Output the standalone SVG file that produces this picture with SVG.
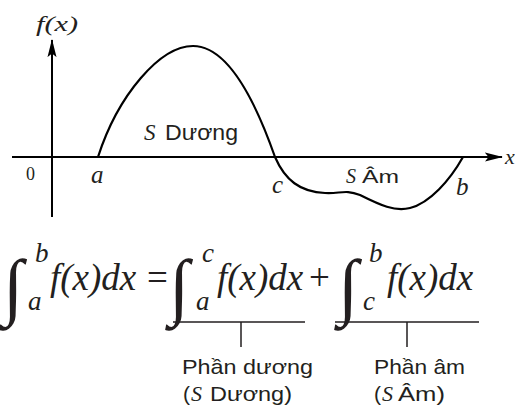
<svg xmlns="http://www.w3.org/2000/svg" width="515" height="408" viewBox="0 0 515 408">
<style>
.ax{stroke:#000;stroke-width:2;fill:none}
.cv{stroke:#000;stroke-width:2.2;fill:none}
.ti{font-family:"Liberation Serif","Times New Roman",serif;font-style:italic;fill:#231f20}
.tr{font-family:"Liberation Serif","Times New Roman",serif;fill:#231f20}
.ts{font-family:"Liberation Sans",Arial,sans-serif;fill:#231f20}
.ln{stroke:#231f20;stroke-width:1.5;fill:none}
</style>
<defs>
<marker id="ah2" viewBox="0 0 20 10" refX="19" refY="5" markerWidth="18" markerHeight="10" markerUnits="userSpaceOnUse" orient="auto"><path d="M0,0 L20,5 L0,10 L4,5 z" fill="#000"/></marker>
</defs>
<rect width="515" height="408" fill="#fff"/>
<g id="axes">
<line class="ax" x1="52" y1="217" x2="52" y2="40" marker-end="url(#ah2)"/>
<line class="ax" x1="12" y1="157" x2="502" y2="157" marker-end="url(#ah2)"/>
<text class="ti" x="36" y="31" font-size="22" textLength="42" lengthAdjust="spacingAndGlyphs">f(x)</text>
<text class="ti" x="505" y="164" font-size="22">x</text>
<text class="tr" x="26" y="180" font-size="18">0</text>
</g>
<g id="curve">
<path class="cv" d="M98,157 C118,95 160,46 193,46 C228,46 255,100 275,157 C285,180 300,192 325,193 C340,194 345,189 360,195 C380,205 395,212 410,208 C430,203 450,180 463,157"/>
</g>
<g id="labels">
<text class="ti" x="91" y="183" font-size="25">a</text>
<text class="ti" x="272" y="193" font-size="25">c</text>
<text class="ti" x="456" y="195" font-size="25">b</text>
<text x="144" y="140"><tspan class="ti" font-size="23">S</tspan><tspan class="ts" font-size="22" x="165" textLength="73" lengthAdjust="spacingAndGlyphs">Dương</tspan></text>
<text x="346" y="183"><tspan class="ti" font-size="20">S</tspan><tspan class="ts" font-size="19" x="362" textLength="37" lengthAdjust="spacingAndGlyphs">Âm</tspan></text>
</g>
<g id="equation">
<text class="tr" x="3" y="311" font-size="74" font-weight="bold">∫</text>
<text class="ti" x="35" y="262" font-size="27">b</text>
<text class="ti" x="28" y="310" font-size="27">a</text>
<text class="ti" x="50" y="290" font-size="37">f(x)dx</text>
<text class="tr" x="147" y="290" font-size="37">=</text>
<text class="tr" x="169" y="311" font-size="74" font-weight="bold">∫</text>
<text class="ti" x="202" y="262" font-size="27">c</text>
<text class="ti" x="196" y="310" font-size="27">a</text>
<text class="ti" x="217" y="290" font-size="37">f(x)dx</text>
<text class="tr" x="309" y="290" font-size="37">+</text>
<text class="tr" x="338" y="311" font-size="74" font-weight="bold">∫</text>
<text class="ti" x="369" y="262" font-size="27">b</text>
<text class="ti" x="363" y="310" font-size="27">c</text>
<text class="ti" x="387" y="290" font-size="37">f(x)dx</text>
</g>
<g id="connectors">
<path class="ln" d="M173,322 H305 M241,322 V347 M335,322 H479 M407,322 V347"/>
</g>
<g id="notes">
<text class="ts" x="182" y="374" font-size="21" textLength="131" lengthAdjust="spacingAndGlyphs">Phần dương</text>
<text x="183" y="401" font-size="21"><tspan class="ts">(</tspan><tspan class="ti" font-size="22" x="191">S</tspan><tspan class="ts" x="210" textLength="82" lengthAdjust="spacingAndGlyphs">Dương)</tspan></text>
<text class="ts" x="374" y="374" font-size="21" textLength="91" lengthAdjust="spacingAndGlyphs">Phần âm</text>
<text x="374" y="401" font-size="21"><tspan class="ts">(</tspan><tspan class="ti" font-size="22" x="382">S</tspan><tspan class="ts" x="398" textLength="47" lengthAdjust="spacingAndGlyphs">Âm)</tspan></text>
</g>
</svg>
